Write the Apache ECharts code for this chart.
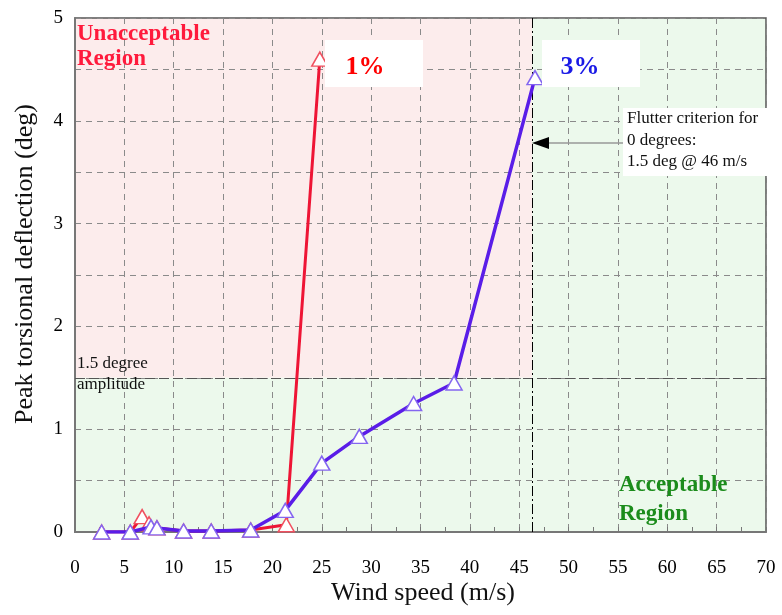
<!DOCTYPE html>
<html>
<head>
<meta charset="utf-8">
<script src="https://cdn.jsdelivr.net/npm/echarts@6/dist/echarts.min.js"></script>
<style>html,body{margin:0;padding:0;background:#fff}#chart{width:782px;height:615px}</style>
</head>
<body>
<div id="chart"></div>
<script>
// Data
const windSpeed1pct = [2.7, 5.6, 6.8, 7.5, 8.3, 11.0, 13.8, 17.8, 21.4, 24.8];
const deflection1pct = [0, 0, 0.15, 0.08, 0.04, 0.01, 0.01, 0.02, 0.07, 4.6];
const windSpeed3pct = [2.7, 5.6, 7.7, 8.3, 11.0, 13.8, 17.8, 21.3, 25.0, 28.8, 34.3, 38.4, 46.6];
const deflection3pct = [0, 0, 0.05, 0.04, 0.01, 0.01, 0.02, 0.21, 0.67, 0.93, 1.25, 1.45, 4.42];
const amplitudeLimit = 1.5;
const flutterSpeed = 46.3;
const xMin = 0, xMax = 70, xStep = 5;
const yMin = 0, yMax = 5, yStep = 0.5;

const serif = '"Liberation Serif", "Times New Roman", serif';
const pairs = (xs, ys) => xs.map((x, i) => [x, ys[i]]);

const chart = echarts.init(document.getElementById('chart'), null, {renderer: 'canvas'});

const option = {
  animation: false,
  backgroundColor: '#fff',
  grid: {left: 75, right: 16, top: 18, bottom: 83, show: true, borderColor: '#555', borderWidth: 1.5, backgroundColor: 'transparent'},
  xAxis: {
    type: 'value', min: xMin, max: xMax, interval: xStep, z: 1,
    axisLine: {onZero: false, lineStyle: {color: '#777', width: 2}},
    axisTick: {show: true, inside: true, length: 5, lineStyle: {color: '#777'}},
    minorTick: {show: true, splitNumber: 2, length: 5, lineStyle: {color: '#777'}},
    axisLabel: {color: '#000', fontFamily: serif, fontSize: 19, margin: 27},
    splitLine: {show: true, lineStyle: {color: '#8a8a8a', type: [6, 5], width: 1}}
  },
  yAxis: {
    type: 'value', min: yMin, max: yMax, interval: yStep, z: 1,
    axisLine: {show: true, onZero: false, lineStyle: {color: '#777', width: 2}},
    axisTick: {show: false},
    axisLabel: {color: '#000', fontFamily: serif, fontSize: 19, margin: 12,
      formatter: v => (Math.abs(v - Math.round(v)) < 1e-9 ? String(Math.round(v)) : '')},
    splitLine: {show: true, lineStyle: {color: '#8a8a8a', type: [6, 5], width: 1}}
  },
  series: [
    {
      name: 'regions', type: 'line', data: [], z: -1, silent: true,
      markArea: {
        silent: true, z: -1,
        data: [
          [{xAxis: xMin, yAxis: amplitudeLimit, itemStyle: {color: '#fcecec'}}, {xAxis: flutterSpeed, yAxis: yMax}],
          [{xAxis: flutterSpeed, yAxis: amplitudeLimit, itemStyle: {color: '#ecf9ec'}}, {xAxis: xMax, yAxis: yMax}],
          [{xAxis: xMin, yAxis: yMin, itemStyle: {color: '#ecf9ec'}}, {xAxis: xMax, yAxis: amplitudeLimit}]
        ]
      }
    },
    {
      name: 'limits', type: 'line', data: [], z: 1, silent: true,
      markLine: {
        silent: true, symbol: ['none', 'none'], label: {show: false}, z: 2,
        data: [
          {yAxis: amplitudeLimit, lineStyle: {color: '#555', type: [10, 4], width: 1.2}},
          {xAxis: flutterSpeed, lineStyle: {color: '#000', type: [10, 3, 2, 3], width: 1}}
        ]
      }
    },
    {
      name: '1%', type: 'line', z: 3,
      data: pairs(windSpeed1pct, deflection1pct),
      lineStyle: {color: '#ee1535', width: 3},
      symbol: 'triangle', symbolSize: [16, 14],
      itemStyle: {color: '#fff', borderColor: '#f0505f', borderWidth: 1.5}
    },
    {
      name: '3%', type: 'line', z: 4,
      data: pairs(windSpeed3pct, deflection3pct),
      lineStyle: {color: '#5a1de8', width: 3.5},
      symbol: 'triangle', symbolSize: [16, 14],
      itemStyle: {color: '#fff', borderColor: '#8466f0', borderWidth: 1.5}
    }
  ],
  graphic: [
    {type: 'rect', z: 10, shape: {x: 325, y: 40, width: 98, height: 47}, style: {fill: '#fff'}},
    {type: 'rect', z: 10, shape: {x: 542, y: 40, width: 98, height: 47}, style: {fill: '#fff'}},
    {type: 'text', z: 11, x: 365, y: 67, style: {text: '1%', fill: '#ff0000', font: 'bold 26px ' + serif, align: 'center', verticalAlign: 'middle'}},
    {type: 'text', z: 11, x: 580, y: 67, style: {text: '3%', fill: '#1a1ae6', font: 'bold 26px ' + serif, align: 'center', verticalAlign: 'middle'}},
    {type: 'text', z: 11, x: 77, y: 34, style: {text: 'Unacceptable', fill: '#ff1a3c', font: 'bold 23px ' + serif, verticalAlign: 'middle'}},
    {type: 'text', z: 11, x: 77, y: 59, style: {text: 'Region', fill: '#ff1a3c', font: 'bold 23px ' + serif, verticalAlign: 'middle'}},
    {type: 'text', z: 11, x: 619, y: 485, style: {text: 'Acceptable', fill: '#1b8c1b', font: 'bold 23px ' + serif, verticalAlign: 'middle'}},
    {type: 'text', z: 11, x: 619, y: 514, style: {text: 'Region', fill: '#1b8c1b', font: 'bold 23px ' + serif, verticalAlign: 'middle'}},
    {type: 'text', z: 11, x: 77, y: 364, style: {text: '1.5 degree', fill: '#111', font: '17px ' + serif, verticalAlign: 'middle'}},
    {type: 'text', z: 11, x: 77, y: 385, style: {text: 'amplitude', fill: '#111', font: '17px ' + serif, verticalAlign: 'middle'}},
    {type: 'rect', z: 10, shape: {x: 623, y: 108, width: 145, height: 68}, style: {fill: '#fff'}},
    {type: 'text', z: 11, x: 627, y: 119, style: {text: 'Flutter criterion for', fill: '#111', font: '17px ' + serif, verticalAlign: 'middle'}},
    {type: 'text', z: 11, x: 627, y: 141, style: {text: '0 degrees:', fill: '#111', font: '17px ' + serif, verticalAlign: 'middle'}},
    {type: 'text', z: 11, x: 627, y: 162, style: {text: '1.5 deg @ 46 m/s', fill: '#111', font: '17px ' + serif, verticalAlign: 'middle'}},
    {type: 'line', z: 11, shape: {x1: 623, y1: 143, x2: 546, y2: 143}, style: {stroke: '#999', lineWidth: 1.5}},
    {type: 'polygon', z: 11, shape: {points: [[532, 143], [549, 137], [549, 149]]}, style: {fill: '#000'}},
    {type: 'text', z: 11, x: 423, y: 593, style: {text: 'Wind speed (m/s)', fill: '#111', font: '26px ' + serif, align: 'center', verticalAlign: 'middle'}},
    {type: 'text', z: 11, x: 25, y: 264, rotation: Math.PI / 2, style: {text: 'Peak torsional deflection (deg)', fill: '#111', font: '26px ' + serif, align: 'center', verticalAlign: 'middle'}}
  ]
};
chart.setOption(option);
</script>
</body>
</html>
